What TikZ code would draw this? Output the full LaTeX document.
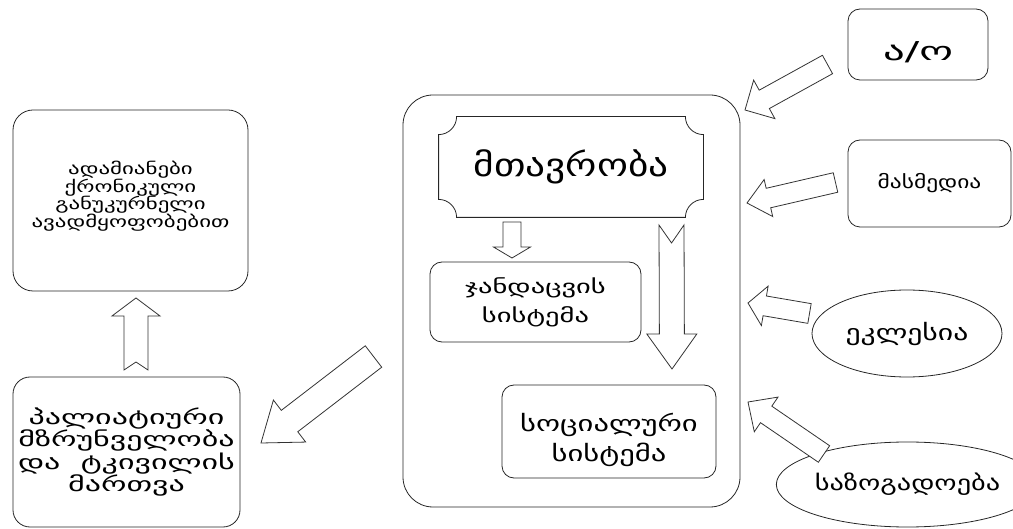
\documentclass[tikz,border=0pt]{standalone}
\usepackage{fontspec}
\setmainfont{DejaVu Sans}
\usetikzlibrary{calc,shapes.geometric}

\tikzset{
  box/.style={draw=black!85, rounded corners=12pt, align=center, inner sep=1pt},
  oval/.style={draw=black!85, ellipse, align=center, inner sep=0pt},
  arrowline/.style={draw=black!80, fill=white, line width=0.8pt, line join=miter},
}

% size, line distance, stretch
\newcommand\fs[3]{\fontsize{#1}{#2}\selectfont\addfontfeatures{FakeStretch=#3}}

% tail, tip, half shaft, half head, head length, notch depth
\newcommand\fatarrow[6]{%
  \coordinate (fa-base) at ($(#2)!#5!(#1)$);
  \coordinate (fa-notch) at ($(#1)!#6!(#2)$);
  \draw[arrowline] ($(#1)!#3!90:(#2)$) -- ($(fa-base)!#3!90:(#2)$)
    -- ($(fa-base)!#4!90:(#2)$) -- (#2) -- ($(fa-base)!#4!-90:(#2)$)
    -- ($(fa-base)!#3!-90:(#2)$) -- ($(#1)!#3!-90:(#2)$) -- (fa-notch) -- cycle;
}

\begin{document}
\begin{tikzpicture}[x=1pt, y=-1pt, line width=0.8pt]
    \useasboundingbox (0,0) rectangle (1013,529);

    % left column
    \node[box, rounded corners=20pt, minimum width=235pt, minimum height=181pt,
          font=\fs{16}{17.5}{1.43}] (ill) at (130.5,200.5)
        {ადამიანები\\ქრონიკული\\განუკურნელი\\ავადმყოფობებით\rule[-12pt]{0pt}{0pt}};
    \node[box, rounded corners=17pt, minimum width=227pt, minimum height=150pt,
          font=\fs{20}{22.5}{1.6}] (care) at (126.5,452)
        {პალიატიური\\მზრუნველობა\\და~~ტკივილის\\მართვა};
    \fatarrow{136,370}{136,298}{12pt}{24pt}{18pt}{8pt}

    % state block
    \node[box, rounded corners=30pt, minimum width=337pt, minimum height=412pt] (state) at (571.5,301) {};
    \node[minimum width=264pt, minimum height=100pt, font=\fs{32}{32}{1.23}] (gov) at (571,167) {მთავრობა};
    \draw[black!85] ([xshift=18pt]gov.north west) -- ([xshift=-18pt]gov.north east)
        arc[start angle=180, end angle=270, radius=18pt] -- ([yshift=18pt]gov.south east)
        arc[start angle=90, end angle=180, radius=18pt] -- ([xshift=18pt]gov.south west)
        arc[start angle=0, end angle=90, radius=18pt] -- ([yshift=-18pt]gov.north west)
        arc[start angle=270, end angle=360, radius=18pt] -- cycle;
    \node[box, minimum width=211pt, minimum height=80pt, font=\fs{19}{29}{1.5}] (health) at (535.5,302)
        {ჯანდაცვის\\სისტემა};
    \node[box, minimum width=214pt, minimum height=93pt, font=\fs{22}{30}{1.39}] (social) at (609,431.5)
        {\rule{0pt}{35pt}სოციალური\\სისტემა};
    \fatarrow{512,222}{512,258}{9pt}{18.5pt}{11pt}{0pt}
    \fatarrow{671.5,225}{672,369}{12.5pt}{25pt}{35pt}{18pt}

    % to the left
    \fatarrow{373.5,356.5}{261,443}{13.5pt}{26.5pt}{36pt}{0pt}

    % influences
    \node[box, minimum width=140pt, minimum height=71pt, font=\fs{26}{26}{1.65}] (ao) at (918,44.5)
        {\rule{0pt}{34pt}ა/ო};
    \node[box, minimum width=163pt, minimum height=87pt, font=\fs{18}{18}{1.3}] (media) at (929.5,183.5) {მასმედია};
    \node[oval, minimum width=190pt, minimum height=87pt, font=\fs{22}{22}{1.35}] (church) at (907,333.5) {ეკლესია};
    \node[oval, minimum width=191pt, minimum height=85pt, font=\fs{21}{21}{1.35}] (society) at (907.5,484.5) {საზოგადოება};
    \fatarrow{827.5,64.5}{745,110}{10.5pt}{22pt}{22pt}{0pt}
    \fatarrow{835.5,182.5}{747,203}{10pt}{19pt}{22pt}{0pt}
    \fatarrow{809.5,313.5}{748,303}{10pt}{20pt}{17pt}{0pt}
    \fatarrow{824,454}{748,402}{10pt}{21pt}{22pt}{0pt}
\end{tikzpicture}
\end{document}
